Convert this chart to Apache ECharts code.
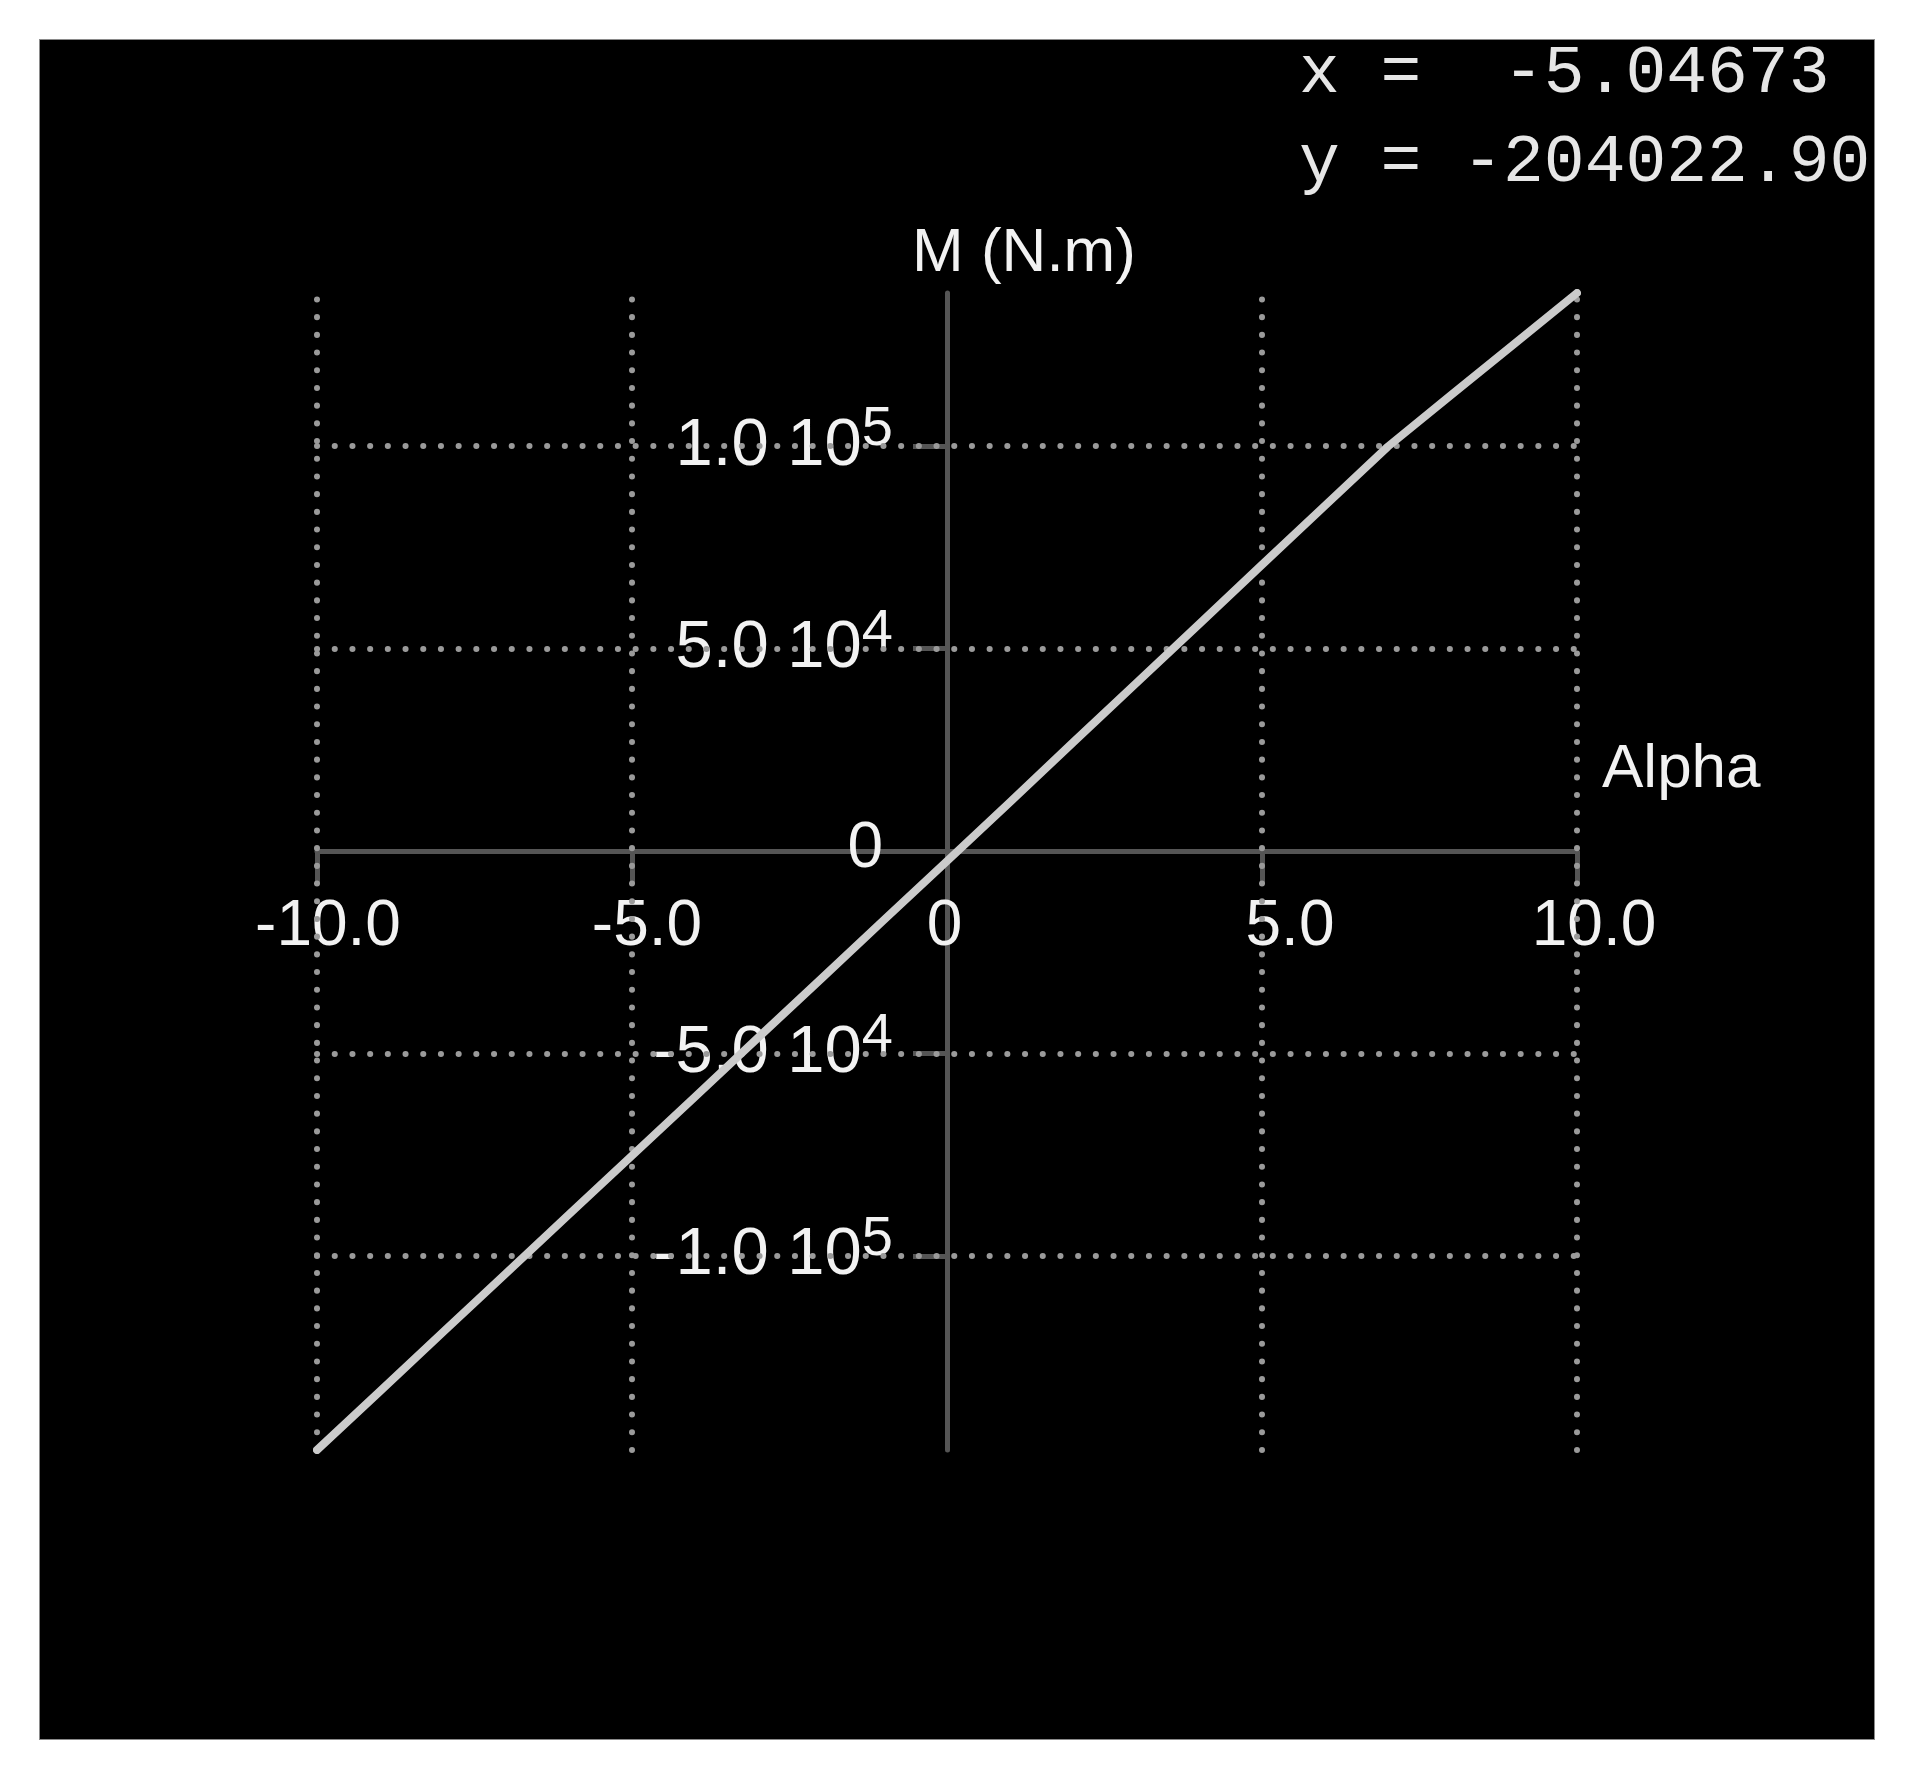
<!DOCTYPE html>
<html>
<head>
<meta charset="utf-8">
<script src="https://cdn.jsdelivr.net/npm/echarts@6/dist/echarts.min.js"></script>
<style>
  html, body { margin: 0; padding: 0; background: #ffffff; }
  #frame { position: absolute; left: 40px; top: 40px; width: 1834px; height: 1699px;
           background: #000000; box-shadow: 0 0 0 1px #8a8a8a; overflow: hidden; }
  #chart { width: 1834px; height: 1699px; }
</style>
</head>
<body>
<div id="frame"><div id="chart"></div></div>
<script>
// ---- data ----
const alphaValues = [-10, -9, -8, -7, -6, -5, -4, -3, -2, -1, 0, 1, 2, 3, 4, 5, 6, 7, 8, 9, 10];
const momentValues = [-147900, -133400, -118800, -104300, -89700, -75200, -60700, -46100, -31600, -17000,
                      -2500, 12100, 26800, 41400, 56000, 70700, 85300, 99900, 112600, 125200, 137800];
const xTickValues = [-10, -5, 0, 5, 10];
const yTickValues = [-100000, -50000, 0, 50000, 100000];
const yTickMantissa = ['-1.0', '-5.0', '0', '5.0', '1.0'];
const yTickExponent = ['5', '4', '', '4', '5'];
const xGridValues = [-10, -5, 5, 10];
const yGridValues = [-100000, -50000, 50000, 100000];
const xAxisName = 'Alpha';
const yAxisName = 'M (N.m)';
const readoutLines = ['x =  -5.04673', 'y = -204022.90'];

const FONT = 'Liberation Sans';
const LABEL = '#f2f2f2';
const AXIS = '#555555';
const GRID = '#9a9a9a';
const dotted = { color: GRID, width: 6, type: [0.1, 17.6], cap: 'round' };
const GRID_LEFT = 277, GRID_TOP = 253, GRID_RIGHT = 297, GRID_BOTTOM = 289;

const xStyleByValue = { '-10': 'a', '-5': 'b', '0': 'z', '5': 'c', '10': 'd' };
function xRich(padL, padR) {
  return { fontFamily: FONT, fontSize: 64, lineHeight: 64, color: LABEL, padding: [0, padR, 0, padL] };
}

const chart = echarts.init(document.getElementById('chart'), null, { renderer: 'canvas' });

const option = {
  backgroundColor: '#000000',
  animation: false,
  grid: { left: GRID_LEFT, right: GRID_RIGHT, top: GRID_TOP, bottom: GRID_BOTTOM,
          containLabel: false, outerBoundsMode: 'none' },
  xAxis: {
    type: 'value',
    min: -10, max: 10, interval: 5,
    name: xAxisName,
    nameLocation: 'end',
    nameGap: 25,
    nameMoveOverlap: false,
    nameTextStyle: { color: LABEL, fontFamily: FONT, fontSize: 62, lineHeight: 62,
                     verticalAlign: 'bottom', padding: [0, 0, 50, 0] },
    axisLine: { show: true, onZero: false, lineStyle: { color: AXIS, width: 5 } },
    axisTick: { show: true, length: 33, lineStyle: { color: AXIS, width: 5 } },
    axisLabel: {
      show: true, margin: 44, color: LABEL, fontFamily: FONT, fontSize: 64,
      formatter: v => '{' + (xStyleByValue[String(v)] || 'd') + '|' + (v === 0 ? '0' : v.toFixed(1)) + '}',
      rich: { a: xRich(22, 0), b: xRich(30, 0), c: xRich(56, 0), d: xRich(34, 0), z: xRich(0, 5) }
    },
    splitLine: { show: false }
  },
  yAxis: {
    type: 'value',
    min: 'dataMin', max: 'dataMax',
    name: yAxisName,
    nameLocation: 'end',
    nameGap: 7,
    nameMoveOverlap: false,
    nameTextStyle: { color: LABEL, fontFamily: FONT, fontSize: 62, lineHeight: 64, padding: [0, 0, 0, 154] },
    axisLine: { show: true, onZero: false, lineStyle: { color: AXIS, width: 5 } },
    axisTick: { show: true, length: 34, customValues: yTickValues, lineStyle: { color: AXIS, width: 5 } },
    axisLabel: {
      show: true, margin: 54, customValues: yTickValues, color: LABEL, fontFamily: FONT,
      formatter: function (v) {
        const i = yTickValues.indexOf(v);
        if (i < 0) return '';
        if (!yTickExponent[i]) return '{z|' + yTickMantissa[i] + '}';
        return '{m|' + yTickMantissa[i] + ' 10}{s|' + yTickExponent[i] + '}';
      },
      rich: {
        m: { fontFamily: FONT, fontSize: 67, lineHeight: 67, color: LABEL, verticalAlign: 'bottom', padding: [0, 0, 0, 0] },
        s: { fontFamily: FONT, fontSize: 56, lineHeight: 56, color: LABEL, verticalAlign: 'bottom', padding: [0, 0, 22, 0] },
        z: { fontFamily: FONT, fontSize: 64, lineHeight: 64, color: LABEL, padding: [0, 10, 4, 0] }
      }
    },
    splitLine: { show: false }
  },
  graphic: [
    { type: 'text', left: 1259, top: 0, silent: true,
      style: { text: readoutLines[0], font: '68px "Liberation Mono"', fill: '#e6e6e6' } },
    { type: 'text', left: 1259, top: 89, silent: true,
      style: { text: readoutLines[1], font: '68px "Liberation Mono"', fill: '#e6e6e6' } }
  ],
  series: [
    {
      type: 'line', name: 'grid', data: [], z: 0, silent: true,
      markLine: {
        silent: true, symbol: ['none', 'none'], label: { show: false },
        lineStyle: dotted, animation: false,
        data: xGridValues.map(v => ({ xAxis: v })).concat(yGridValues.map(v => ({ yAxis: v })))
      }
    },
    {
      type: 'line', name: 'M',
      data: alphaValues.map((a, i) => [a, momentValues[i]]),
      showSymbol: false, symbol: 'none', z: 5,
      lineStyle: { color: '#cbcbcb', width: 8, cap: 'round', join: 'round' }
    }
  ]
};
chart.setOption(option);

// Move both axes (line, ticks, labels) onto the zero of the other axis, using the chart's own scales.
for (let k = 0; k < 3; k++) {
  const origin = chart.convertToPixel({ gridIndex: 0 }, [0, 0]);
  const rect = chart.getModel().getComponent('grid', 0).coordinateSystem.getRect();
  chart.setOption({
    xAxis: { offset: -(rect.y + rect.height - origin[1]) },
    yAxis: { offset: -(origin[0] - rect.x) }
  });
}
</script>
</body>
</html>
